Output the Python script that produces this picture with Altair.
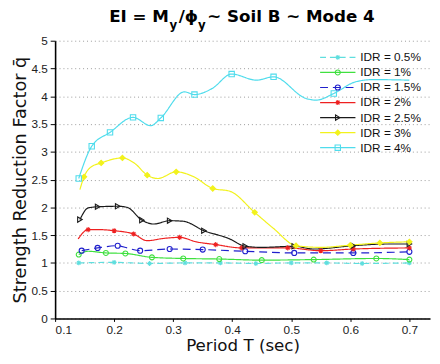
import altair as alt
import pandas as pd

# ---------------- data ----------------
series_names = ["IDR = 0.5%", "IDR = 1%", "IDR = 1.5%", "IDR = 2%",
                "IDR = 2.5%", "IDR = 3%", "IDR = 4%"]

T_05 = [0.14, 0.2, 0.26, 0.32, 0.38, 0.44, 0.5, 0.56, 0.62, 0.7]
Q_05 = [1.0, 1.01, 0.99, 1.0, 1.0, 0.99, 1.0, 1.0, 0.99, 1.0]
M_05 = [1, 1, 1, 1, 1, 1, 1, 1, 1, 1]

T_1 = [0.14, 0.156, 0.186, 0.219, 0.264, 0.317, 0.378, 0.45, 0.538, 0.644, 0.70]
Q_1 = [1.15, 1.21, 1.18, 1.17, 1.10, 1.08, 1.07, 1.05, 1.06, 1.08, 1.06]
M_1 = [1, 0, 1, 1, 1, 1, 1, 1, 1, 1, 1]

T_15 = [0.145, 0.172, 0.206, 0.222, 0.244, 0.294, 0.35, 0.422, 0.505, 0.605, 0.70]
Q_15 = [1.22, 1.27, 1.31, 1.27, 1.22, 1.25, 1.24, 1.21, 1.18, 1.18, 1.20]
M_15 = [1, 1, 1, 0, 1, 1, 1, 1, 1, 1, 1]

T_2 = [0.139, 0.156, 0.172, 0.2, 0.233, 0.256, 0.283, 0.311, 0.339, 0.372,
       0.416, 0.494, 0.55, 0.605, 0.70]
Q_2 = [1.43, 1.60, 1.60, 1.58, 1.52, 1.40, 1.44, 1.46, 1.38, 1.33,
       1.27, 1.27, 1.22, 1.25, 1.27]
M_2 = [0, 1, 0, 1, 1, 0, 0, 1, 0, 1, 1, 1, 1, 1, 1]

T_25 = [0.142, 0.156, 0.172, 0.206, 0.222, 0.247, 0.267, 0.294, 0.317, 0.352,
        0.394, 0.422, 0.45, 0.505, 0.538, 0.605, 0.66, 0.70]
Q_25 = [1.78, 1.99, 2.01, 2.02, 2.00, 1.77, 1.70, 1.76, 1.75, 1.58,
        1.44, 1.30, 1.28, 1.30, 1.25, 1.31, 1.34, 1.34]
M_25 = [1, 0, 1, 1, 0, 1, 0, 1, 0, 1, 0, 1, 0, 1, 0, 1, 0, 1]

T_3 = [0.142, 0.149, 0.16, 0.178, 0.214, 0.235, 0.256, 0.274, 0.305, 0.335,
       0.367, 0.396, 0.438, 0.47, 0.508, 0.55, 0.6, 0.65, 0.70]
Q_3 = [2.32, 2.55, 2.72, 2.80, 2.89, 2.79, 2.58, 2.52, 2.64, 2.55,
       2.34, 2.29, 1.91, 1.62, 1.31, 1.28, 1.32, 1.36, 1.38]
M_3 = [0, 1, 0, 1, 1, 0, 1, 0, 1, 0, 1, 0, 1, 0, 1, 0, 1, 1, 1]

T_4 = [0.14, 0.162, 0.193, 0.232, 0.262, 0.279, 0.319, 0.336, 0.366, 0.399,
       0.441, 0.47, 0.525, 0.542, 0.572, 0.609, 0.638, 0.70]
Q_4 = [2.52, 3.10, 3.35, 3.62, 3.47, 3.61, 4.08, 4.03, 4.14, 4.40,
       4.29, 4.35, 3.96, 3.93, 4.05, 4.26, 4.30, 4.29]
M_4 = [1, 1, 1, 1, 0, 1, 0, 1, 0, 1, 0, 1, 0, 0, 1, 0, 0, 0]

x_ticks = [0.1, 0.2, 0.3, 0.4, 0.5, 0.6, 0.7]
y_ticks = [0, 0.5, 1, 1.5, 2, 2.5, 3, 3.5, 4, 4.5, 5]

all_T = [T_05, T_1, T_15, T_2, T_25, T_3, T_4]
all_Q = [Q_05, Q_1, Q_15, Q_2, Q_25, Q_3, Q_4]
all_M = [M_05, M_1, M_15, M_2, M_25, M_3, M_4]

rows = []
for name, Ts, Qs, Ms in zip(series_names, all_T, all_Q, all_M):
    for t, q, m in zip(Ts, Qs, Ms):
        rows.append({"series": name, "T": t, "q": q, "mk": m})
df = pd.DataFrame(rows)
df_mk = df[df["mk"] == 1]

legend_df = pd.DataFrame({"series": series_names, "row": list(range(len(series_names)))})

# ---------------- styles ----------------
colors = ["#5fdede", "#3fe03f", "#2020cc", "#ee2020", "#1a1a1a", "#f2f21c", "#4fdcec"]
dashes = [[6, 4], [1, 0], [8, 5], [1, 0], [1, 0], [1, 0], [1, 0]]
asterisk = "M-1,0L1,0M0,-1L0,1M-0.7,-0.7L0.7,0.7M-0.7,0.7L0.7,-0.7"
shapes = [asterisk, "circle", "circle", asterisk, "triangle-right", "diamond", "square"]
fills = ["transparent", "transparent", "transparent", "transparent",
         "transparent", "#f2f21c", "transparent"]
sizes = [25, 30, 40, 22, 40, 18, 45]

color_enc = alt.Color("series:N", scale=alt.Scale(domain=series_names, range=colors), legend=None)
dash_enc = alt.StrokeDash("series:N", scale=alt.Scale(domain=series_names, range=dashes), legend=None)
shape_enc = alt.Shape("series:N", scale=alt.Scale(domain=series_names, range=shapes), legend=None)
fill_enc = alt.Fill("series:N", scale=alt.Scale(domain=series_names, range=fills), legend=None)
size_enc = alt.Size("series:N", scale=alt.Scale(domain=series_names, range=sizes), legend=None)

FONT_T = "DejaVu Sans"
FONT_L = "Liberation Sans"

x_enc = alt.X(
    "T:Q",
    scale=alt.Scale(domain=[0.1, 0.735], nice=False, zero=False),
    axis=alt.Axis(values=x_ticks, format=".1f", title="Period T (sec)",
                  grid=False, tickSize=3, labelPadding=3, domainWidth=1.6,
                  domainColor="#000", tickColor="#000",
                  labelFont=FONT_L, labelFontSize=12, labelColor="#222",
                  titleFont=FONT_T, titleFontSize=17, titleFontWeight="normal",
                  titleColor="#111", titleX=191, titleY=33,
                  titleBaseline="alphabetic", titleAlign="center"),
)
y_enc = alt.Y(
    "q:Q",
    scale=alt.Scale(domain=[0, 5], nice=False),
    axis=alt.Axis(values=y_ticks, format="~g", title="Strength Reduction Factor q\u0304",
                  grid=True, gridDash=[1, 3], gridColor="#9a9a9a", gridWidth=1,
                  tickSize=5, labelPadding=3, domainWidth=1.6,
                  domainColor="#000", tickColor="#000",
                  labelFont=FONT_L, labelFontSize=12, labelColor="#222",
                  titleFont=FONT_T, titleFontSize=18, titleFontWeight="normal",
                  titleColor="#111", titleX=-30, titleY=141.5, titleAngle=-90,
                  titleBaseline="alphabetic", titleAlign="center"),
)

lines = alt.Chart(df).mark_line(interpolate="monotone", strokeWidth=1.2).encode(
    x=x_enc, y=y_enc, color=color_enc, strokeDash=dash_enc, detail="series:N"
)
points = alt.Chart(df_mk).mark_point(strokeWidth=1.1, opacity=1).encode(
    x=x_enc, y=y_enc, color=color_enc, shape=shape_enc, fill=fill_enc, size=size_enc
)
data_layer = alt.layer(lines, points)

# ---------------- legend (drawn) ----------------
leg_y = alt.Y("row:Q", scale=alt.Scale(domain=[0, 6], range=[17, 109]), axis=None)
leg_rule = alt.Chart(legend_df).mark_rule(strokeWidth=1.2).encode(
    x=alt.value(270), x2=alt.value(306), y=leg_y, color=color_enc, strokeDash=dash_enc
)
leg_pt = alt.Chart(legend_df).mark_point(strokeWidth=1.1, opacity=1).encode(
    x=alt.value(288), y=leg_y, color=color_enc, shape=shape_enc, fill=fill_enc, size=size_enc
)
leg_txt = alt.Chart(legend_df).mark_text(
    align="left", baseline="middle", font=FONT_L, fontSize=12, color="#111"
).encode(x=alt.value(311), y=leg_y, text="series:N")
legend_layer = alt.layer(leg_rule, leg_pt, leg_txt)

# ---------------- title (with subscripts) ----------------
title_parts = ["EI = M", "y", "/\u03d5", "y", "~ Soil B ~ Mode 4"]
title_x = [116, 116.5, 126, 145.5, 155]
title_y = [-19, -12, -19, -12, -19]
title_align = ["right", "left", "left", "left", "left"]
title_size = [17, 12, 17, 12, 17]

title_layers = []
for txt, tx, ty, al, fs in zip(title_parts, title_x, title_y, title_align, title_size):
    title_layers.append(
        alt.Chart(pd.DataFrame({"t": [txt]})).mark_text(
            align=al, baseline="alphabetic", font=FONT_T, fontSize=fs,
            fontWeight="bold", color="#000"
        ).encode(text="t:N", x=alt.value(tx), y=alt.value(ty))
    )

chart = alt.layer(data_layer, legend_layer, *title_layers).resolve_scale(
    y="independent"
).properties(
    width=382, height=283,
    autosize=alt.AutoSizeParams(type="none"),
    padding={"left": 48, "top": 30, "right": 2, "bottom": 40},
    background="white",
).configure_view(strokeWidth=0)

chart.save("out.html", embed_options={"renderer": "svg", "actions": False})
